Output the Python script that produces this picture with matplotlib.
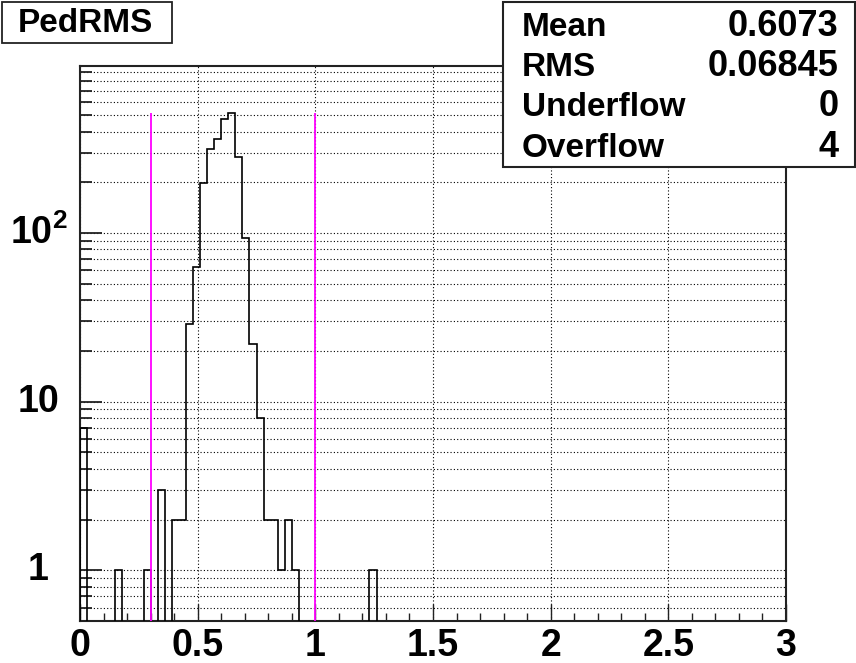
import numpy as np
import matplotlib
matplotlib.use('Agg')
import matplotlib.pyplot as plt
from matplotlib.patches import Rectangle
from matplotlib.ticker import MultipleLocator, LogLocator, NullFormatter

plt.rcParams['font.family'] = 'Liberation Sans'
plt.rcParams['font.weight'] = 'bold'
plt.rcParams['mathtext.fontset'] = 'custom'
plt.rcParams['mathtext.rm'] = 'Liberation Sans:bold'
plt.rcParams['mathtext.bf'] = 'Liberation Sans:bold'
plt.rcParams['mathtext.it'] = 'Liberation Sans:bold'

# PedRMS histogram: 100 bins of 0.03 from 0 to 3, only the filled bins are listed
n_bins = 100
x_lo, x_hi = 0.0, 3.0
bin_low_edges = [0.00, 0.15, 0.27, 0.33, 0.39, 0.42, 0.45, 0.48, 0.51, 0.54,
                 0.57, 0.60, 0.63, 0.66, 0.69, 0.72, 0.75, 0.78, 0.81, 0.84,
                 0.87, 0.90, 1.23]
bin_counts = [7, 1, 1, 3, 2, 2, 29, 63, 197, 315,
              360, 473, 513, 284, 94, 22, 8, 2, 2, 1,
              2, 1, 1]

# cut window
cut_values = [0.3, 1.0]

stat_names = ['Mean', 'RMS', 'Underflow', 'Overflow']
stat_values = ['0.6073', '0.06845', '0', '4']

xtick_vals = [0, 0.5, 1, 1.5, 2, 2.5, 3]
xtick_labels = ['0', '0.5', '1', '1.5', '2', '2.5', '3']
ytick_vals = [1, 10, 100]
ytick_labels = ['1', '10', r'$\mathbf{10^{2}}$']

edges = np.linspace(x_lo, x_hi, n_bins + 1)
width = (x_hi - x_lo) / n_bins
counts = np.zeros(n_bins)
for lo, c in zip(bin_low_edges, bin_counts):
    counts[int(round(lo / width))] = c

W, H = 856, 663
fig = plt.figure(figsize=(W / 100, H / 100), dpi=100)
ax = fig.add_axes([80 / W, 1 - 621 / H, 706 / W, 555 / H])

# empty bins are drawn along the bottom of the frame
floor = 1e-3
drawn = np.where(counts > 0, counts, floor)
ax.stairs(drawn, edges, baseline=floor, color='k', lw=1.2, zorder=3)
ax.vlines(cut_values, 0.5, counts.max(), colors='#ff00ff', lw=1.3, zorder=4)

ax.set_yscale('log')
ax.set_xlim(x_lo, x_hi)
ax.set_ylim(0.5, 980)

dots = (0, (1, 2))
ax.grid(True, axis='x', which='major', ls=dots, color='k', lw=0.8)
ax.grid(True, axis='y', which='both', ls=dots, color='k', lw=0.8)
ax.set_axisbelow(True)

ax.set_xticks(xtick_vals, xtick_labels)
ax.xaxis.set_minor_locator(MultipleLocator(0.1))
ax.set_yticks(ytick_vals, ytick_labels)
ax.yaxis.set_minor_locator(LogLocator(base=10, subs=np.arange(2, 10), numticks=20))
ax.yaxis.set_minor_formatter(NullFormatter())
plt.setp(ax.get_yticklabels(), ha='center', va='center')

ax.tick_params(axis='x', which='major', direction='in', length=12, width=1,
               labelsize=27, pad=5, top=False, color='#222')
ax.tick_params(axis='x', which='minor', direction='in', length=6, width=1,
               top=False, color='#222')
ax.tick_params(axis='y', which='major', direction='in', length=16, width=1.3,
               labelsize=27, pad=30, right=False, color='#222')
ax.tick_params(axis='y', which='minor', direction='in', length=8.5, width=1.3,
               right=False, color='#222')
for s in ax.spines.values():
    s.set_linewidth(1.5)
    s.set_color('#222')

# title box
fig.add_artist(Rectangle((1.7 / W, 1 - 43.3 / H), 170 / W, 41.6 / H,
                         transform=fig.transFigure, fc='white', ec='#222',
                         lw=1.3, zorder=5))
fig.text(85 / W, 1 - 23 / H, 'PedRMS', ha='center', va='center',
         fontsize=24, zorder=6)

# statistics box
fig.add_artist(Rectangle((503 / W, 1 - 166.7 / H), (855 - 503) / W, 165 / H,
                         transform=fig.transFigure, fc='white', ec='#222',
                         lw=1.5, zorder=5))
for i, (name, val) in enumerate(zip(stat_names, stat_values)):
    y = 1 - (36.5 + 40 * i) / H
    fig.text(521.7 / W, y, name, fontsize=24, va='baseline', zorder=6)
    fig.text(838.3 / W, y, val, fontsize=26, va='baseline', ha='right', zorder=6)

fig.savefig('out.png', dpi=100)
